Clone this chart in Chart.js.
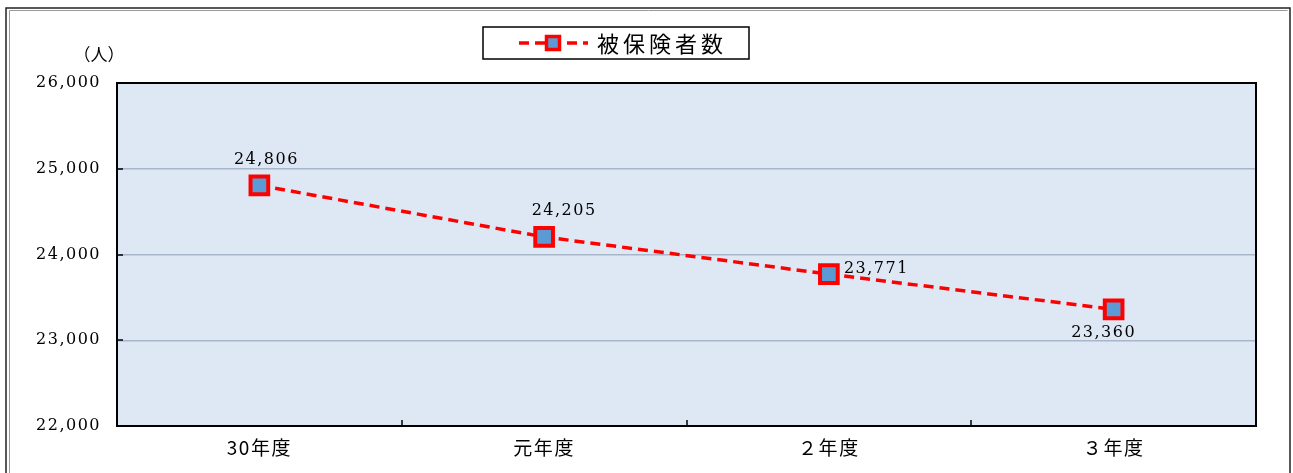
<!DOCTYPE html>
<html lang="ja">
<head>
<meta charset="utf-8">
<script src="https://cdn.jsdelivr.net/npm/chart.js@4/dist/chart.umd.min.js"></script>
<style>
  html, body { margin: 0; padding: 0; background: #fff; }
  #wrap { width: 1293px; height: 473px; position: relative; }
</style>
</head>
<body>
<div id="wrap"><canvas id="c" width="1293" height="473"></canvas></div>
<script>
// 被保険者数の推移
const categories = ['30年度', '元年度', '２年度', '３年度'];
const insured = [24806, 24205, 23771, 23360];
const yTicks = [22000, 23000, 24000, 25000, 26000];
const seriesName = '被保険者数';
const unitLabel = '（人）';
const labelSides = ['top', 'top', 'right', 'bottom'];

const numFont = '"DejaVu Serif", "Liberation Serif", serif';
const jpFont = '"Noto Sans CJK JP", "Noto Sans", sans-serif';
const fmt = v => v.toLocaleString('en-US');

const frameAndPlot = {
  id: 'frameAndPlot',
  beforeDraw(chart) {
    const { ctx, chartArea: a } = chart;
    ctx.save();
    ctx.fillStyle = '#fff';
    ctx.fillRect(0, 0, chart.width, chart.height);
    // outer frame
    ctx.strokeStyle = '#222';
    ctx.lineWidth = 1.5;
    ctx.beginPath();
    ctx.moveTo(6, chart.height);
    ctx.lineTo(6, 8);
    ctx.lineTo(1290, 8);
    ctx.lineTo(1290, chart.height);
    ctx.stroke();
    ctx.strokeStyle = '#999';
    ctx.lineWidth = 1;
    ctx.beginPath();
    ctx.moveTo(9.5, chart.height);
    ctx.lineTo(9.5, 10.5);
    ctx.lineTo(1287.5, 10.5);
    ctx.stroke();
    // plot background
    ctx.fillStyle = '#dde8f4';
    ctx.fillRect(a.left, a.top, a.right - a.left, a.bottom - a.top);
    ctx.restore();
    // slightly wider text spacing for axis labels
    ctx.letterSpacing = '1.5px';
  },
  beforeDatasetsDraw(chart) {
    const { ctx, chartArea: a, scales } = chart;
    ctx.save();
    // plot border
    ctx.strokeStyle = '#000';
    ctx.lineWidth = 2;
    ctx.strokeRect(a.left, a.top, a.right - a.left, a.bottom - a.top);
    // inward tick marks
    ctx.lineWidth = 1.5;
    ctx.beginPath();
    yTicks.forEach(v => {
      const y = Math.round(scales.y.getPixelForValue(v));
      ctx.moveTo(a.left, y);
      ctx.lineTo(a.left + 6, y);
    });
    const n = categories.length;
    for (let i = 1; i < n; i++) {
      const x = Math.round(a.left + (a.right - a.left) * i / n);
      ctx.moveTo(x, a.bottom);
      ctx.lineTo(x, a.bottom - 6);
    }
    ctx.stroke();
    // unit label
    ctx.fillStyle = '#000';
    ctx.font = '17px ' + jpFont;
    ctx.letterSpacing = '0px';
    ctx.textAlign = 'center';
    ctx.textBaseline = 'middle';
    ctx.fillText(unitLabel, 99, 55);
    ctx.restore();
  },
  afterDatasetsDraw(chart) {
    const { ctx } = chart;
    const ds = chart.data.datasets[0];
    const meta = chart.getDatasetMeta(0);
    ctx.save();
    ctx.fillStyle = '#000';
    ctx.font = '16px ' + numFont;
    ctx.letterSpacing = '1.5px';
    ctx.textBaseline = 'middle';
    meta.data.forEach((pt, i) => {
      const text = fmt(ds.data[i]);
      const side = labelSides[i];
      if (side === 'top') {
        ctx.textAlign = 'center';
        ctx.fillText(text, pt.x + 7 + (i === 1 ? 13 : 0), pt.y - 26);
      } else if (side === 'right') {
        ctx.textAlign = 'left';
        ctx.fillText(text, pt.x + 15, pt.y - 5);
      } else {
        ctx.textAlign = 'center';
        ctx.fillText(text, pt.x - 10, pt.y + 23);
      }
    });
    // legend box
    const bx = 483, by = 27, bw = 266, bh = 32;
    ctx.fillStyle = '#fff';
    ctx.fillRect(bx, by, bw, bh);
    ctx.strokeStyle = '#000';
    ctx.lineWidth = 1.5;
    ctx.strokeRect(bx, by, bw, bh);
    const ly = by + bh / 2;
    ctx.strokeStyle = ds.borderColor;
    ctx.lineWidth = ds.borderWidth;
    ctx.setLineDash(ds.borderDash);
    ctx.beginPath();
    ctx.moveTo(519, ly);
    ctx.lineTo(588, ly);
    ctx.stroke();
    ctx.setLineDash([]);
    const s = 13;
    ctx.fillStyle = ds.pointBackgroundColor;
    ctx.fillRect(553 - s / 2, ly - s / 2, s, s);
    ctx.strokeStyle = ds.pointBorderColor;
    ctx.lineWidth = 3.5;
    ctx.strokeRect(553 - s / 2, ly - s / 2, s, s);
    ctx.fillStyle = '#000';
    ctx.font = '22px ' + jpFont;
    ctx.letterSpacing = '4px';
    ctx.textAlign = 'left';
    ctx.textBaseline = 'middle';
    ctx.fillText(ds.label, 597, ly + 1);
    ctx.restore();
  },
  afterDraw(chart) {
    chart.ctx.letterSpacing = '0px';
  }
};

new Chart(document.getElementById('c'), {
  type: 'line',
  data: {
    labels: categories,
    datasets: [{
      label: seriesName,
      data: insured,
      borderColor: '#ff0000',
      borderWidth: 3.5,
      borderDash: [10, 6],
      pointStyle: 'rect',
      pointRadius: 12.5,
      pointHoverRadius: 12.5,
      pointBackgroundColor: '#5b9bd5',
      pointBorderColor: '#ff0000',
      pointBorderWidth: 4,
      tension: 0
    }]
  },
  options: {
    responsive: false,
    animation: false,
    events: [],
    layout: { padding: { top: 83, right: 37, left: 0, bottom: 0 } },
    plugins: { legend: { display: false }, tooltip: { enabled: false } },
    scales: {
      x: {
        offset: true,
        grid: { display: false, drawTicks: false },
        border: { display: false },
        ticks: { color: '#000', font: { family: jpFont, size: 19 }, padding: 10 },
        afterFit(s) { s.height = 47; }
      },
      y: {
        min: 22000,
        max: 26000,
        afterBuildTicks(s) { s.ticks = yTicks.map(v => ({ value: v })); },
        grid: { color: '#a8b6c9', lineWidth: 1.5, drawTicks: false },
        border: { display: false },
        ticks: { color: '#000', font: { family: numFont, size: 16 }, padding: 16, callback: v => fmt(v) },
        afterFit(s) { s.width = 117; }
      }
    }
  },
  plugins: [frameAndPlot]
});
</script>
</body>
</html>
